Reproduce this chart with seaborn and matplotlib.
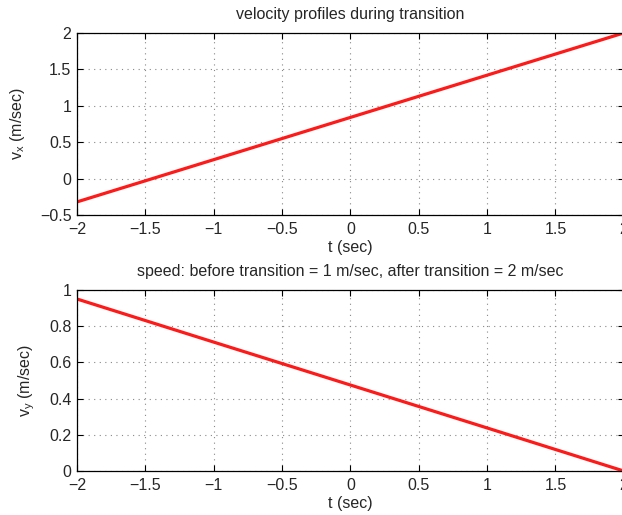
import numpy as np
import pandas as pd
import matplotlib
matplotlib.use('Agg')
import matplotlib.pyplot as plt
import seaborn as sns

# data
t = [-2.0, -1.0, 0.0, 1.0, 2.0]
vx = [-0.32, 0.26, 0.84, 1.42, 2.0]
vy = [0.95, 0.712, 0.475, 0.238, 0.0]
xticks = [-2, -1.5, -1, -0.5, 0, 0.5, 1, 1.5, 2]
yticks_top = [-0.5, 0, 0.5, 1, 1.5, 2]
yticks_bot = [0, 0.2, 0.4, 0.6, 0.8, 1]

sns.set_style('ticks')
plt.rcParams['font.family'] = ['Liberation Sans', 'DejaVu Sans']
plt.rcParams['mathtext.fontset'] = 'custom'
plt.rcParams['mathtext.rm'] = 'Liberation Sans'
plt.rcParams['mathtext.it'] = 'Liberation Sans'

FS = 11.5

df = pd.DataFrame({'t': t, 'vx': vx, 'vy': vy})

fig = plt.figure(figsize=(6.22, 5.15), dpi=100)
ax1 = fig.add_axes([0.1238, 0.5825, 0.879, 0.3535])
ax2 = fig.add_axes([0.1238, 0.0854, 0.879, 0.3516])

def fmt(v):
    return ('%g' % v).replace('-', '\u2212')

def style(ax, yt):
    ax.set_xlim(-2, 2)
    ax.set_ylim(yt[0], yt[-1])
    ax.set_xticks(xticks)
    ax.set_xticklabels([fmt(v) for v in xticks])
    ax.set_yticks(yt)
    ax.set_yticklabels([fmt(v) for v in yt])
    ax.grid(True, linestyle=(0, (1, 4)), color='#888888', linewidth=0.8)
    ax.tick_params(direction='in', top=True, right=True, length=4,
                   labelsize=FS, color='black', width=0.8)
    ax.tick_params(axis='x', pad=5)
    ax.tick_params(axis='y', pad=4)
    for s in ax.spines.values():
        s.set_color('black')
        s.set_linewidth(0.9)
    ax.set_xlabel('t (sec)', fontsize=FS, labelpad=2)

sns.lineplot(data=df, x='t', y='vx', ax=ax1, color='#ff1a1a', linewidth=2.3)
style(ax1, yticks_top)
ax1.set_ylabel(r'v$_{\mathregular{x}}$ (m/sec)', fontsize=FS, labelpad=9)
ax1.set_title('velocity profiles during transition', fontsize=FS, pad=10)

sns.lineplot(data=df, x='t', y='vy', ax=ax2, color='#ff1a1a', linewidth=2.3)
style(ax2, yticks_bot)
ax2.set_ylabel(r'v$_{\mathregular{y}}$ (m/sec)', fontsize=FS, labelpad=9)
ax2.set_title('speed: before transition = 1 m/sec, after transition = 2 m/sec',
              fontsize=FS, pad=10)

fig.savefig('out.png', dpi=100)
